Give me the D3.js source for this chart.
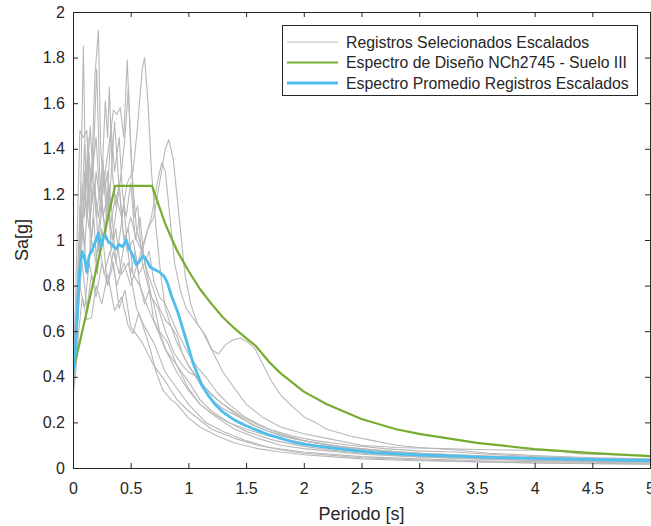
<!DOCTYPE html>
<html><head><meta charset="utf-8">
<script src="https://cdn.jsdelivr.net/npm/d3@7/dist/d3.min.js"></script>
<style>html,body{margin:0;padding:0;background:#fff;}svg{display:block;}</style>
</head><body>
<script>
// ---- Data ----
const xTicks = [0,0.5,1,1.5,2,2.5,3,3.5,4,4.5,5];
const xTickLabels = ["0","0.5","1","1.5","2","2.5","3","3.5","4","4.5","5"];
const yTicks = [0,0.2,0.4,0.6,0.8,1,1.2,1.4,1.6,1.8,2];
const yTickLabels = ["0","0.2","0.4","0.6","0.8","1","1.2","1.4","1.6","1.8","2"];
const legendLabels = ["Registros Selecionados Escalados","Espectro de Diseño NCh2745 - Suelo III","Espectro Promedio Registros Escalados"];

const registro1 = [[0,0.38],[0.03,0.6],[0.05,0.9],[0.07,1.3],[0.09,1.85],[0.11,1.2],[0.13,1.45],[0.15,0.95],[0.18,1.1],[0.21,0.85],[0.25,1.05],[0.3,0.8],[0.35,0.9],[0.4,0.7],[0.45,0.78],[0.5,0.62],[0.6,0.55],[0.7,0.45],[0.8,0.38],[0.9,0.3],[1.0,0.25],[1.2,0.17],[1.4,0.13],[1.6,0.1],[1.8,0.08],[2.0,0.065],[2.5,0.045],[3,0.035],[3.5,0.028],[4,0.022],[4.5,0.02],[5,0.018]];
const registro2 = [[0,0.42],[0.03,0.7],[0.06,1.0],[0.08,1.25],[0.1,1.1],[0.13,1.4],[0.16,1.25],[0.19,1.72],[0.22,1.92],[0.24,1.4],[0.27,1.2],[0.3,1.3],[0.33,0.95],[0.37,1.05],[0.42,0.85],[0.48,0.9],[0.55,0.7],[0.62,0.62],[0.7,0.55],[0.8,0.42],[0.9,0.35],[1.0,0.28],[1.15,0.2],[1.3,0.16],[1.5,0.12],[1.7,0.09],[2.0,0.07],[2.5,0.05],[3,0.04],[3.5,0.032],[4,0.028],[5,0.022]];
const registro3 = [[0,0.35],[0.02,0.5],[0.05,0.85],[0.08,1.1],[0.1,0.95],[0.13,1.2],[0.16,1.0],[0.2,1.3],[0.24,1.15],[0.28,1.61],[0.3,1.45],[0.315,1.67],[0.34,1.3],[0.37,1.15],[0.4,1.25],[0.44,1.0],[0.48,1.05],[0.52,0.85],[0.58,0.8],[0.65,0.7],[0.72,0.62],[0.8,0.52],[0.9,0.45],[1.0,0.38],[1.1,0.3],[1.2,0.25],[1.35,0.2],[1.5,0.16],[1.75,0.12],[2.0,0.095],[2.3,0.075],[2.6,0.06],[3,0.05],[3.5,0.04],[4,0.033],[4.5,0.028],[5,0.025]];
const registro4 = [[0,0.4],[0.03,0.65],[0.06,0.9],[0.09,1.05],[0.12,0.85],[0.16,1.0],[0.2,0.9],[0.24,1.15],[0.28,1.3],[0.32,1.45],[0.35,1.57],[0.38,1.55],[0.41,1.58],[0.44,1.45],[0.47,1.79],[0.5,1.4],[0.53,1.1],[0.56,1.15],[0.6,0.9],[0.65,0.8],[0.7,0.72],[0.75,0.6],[0.82,0.55],[0.9,0.45],[1.0,0.35],[1.1,0.28],[1.2,0.24],[1.35,0.2],[1.5,0.17],[1.7,0.14],[1.9,0.12],[2.1,0.1],[2.4,0.085],[2.8,0.07],[3.2,0.06],[3.6,0.05],[4,0.042],[4.5,0.036],[5,0.03]];
const registro5 = [[0,0.45],[0.03,0.7],[0.06,0.95],[0.1,1.2],[0.14,1.05],[0.18,1.25],[0.22,1.1],[0.27,1.3],[0.32,1.05],[0.37,1.2],[0.42,1.1],[0.47,1.25],[0.52,1.3],[0.56,1.5],[0.6,1.75],[0.62,1.8],[0.65,1.6],[0.68,1.3],[0.72,1.05],[0.76,0.85],[0.8,0.7],[0.85,0.62],[0.9,0.55],[1.0,0.45],[1.1,0.37],[1.2,0.3],[1.3,0.26],[1.45,0.22],[1.6,0.18],[1.8,0.14],[2.0,0.12],[2.2,0.1],[2.5,0.08],[3,0.06],[3.5,0.05],[4,0.04],[4.5,0.034],[5,0.03]];
const registro6 = [[0,0.33],[0.02,0.45],[0.05,0.75],[0.08,0.9],[0.12,0.7],[0.16,0.85],[0.2,0.75],[0.25,0.9],[0.3,0.8],[0.35,0.95],[0.4,0.85],[0.45,1.0],[0.5,1.1],[0.55,1.0],[0.6,0.95],[0.65,1.05],[0.7,1.1],[0.75,1.25],[0.8,1.4],[0.83,1.44],[0.87,1.35],[0.92,1.1],[0.97,0.85],[1.02,0.72],[1.08,0.63],[1.15,0.58],[1.22,0.5],[1.3,0.42],[1.4,0.35],[1.5,0.28],[1.65,0.22],[1.8,0.18],[2.0,0.15],[2.2,0.13],[2.5,0.1],[2.8,0.09],[3.2,0.085],[3.6,0.08],[4.0,0.078],[4.2,0.075],[4.4,0.062],[4.7,0.058],[5,0.055]];
const registro7 = [[0,0.36],[0.03,0.55],[0.06,0.8],[0.1,0.7],[0.14,0.9],[0.18,0.8],[0.22,1.0],[0.27,0.85],[0.32,0.95],[0.38,0.8],[0.44,0.9],[0.5,0.8],[0.56,0.9],[0.62,1.0],[0.68,1.1],[0.73,1.25],[0.77,1.34],[0.8,1.3],[0.84,1.1],[0.88,0.9],[0.93,0.78],[0.98,0.7],[1.05,0.65],[1.12,0.6],[1.2,0.52],[1.26,0.5],[1.32,0.54],[1.38,0.56],[1.45,0.57],[1.52,0.55],[1.58,0.52],[1.65,0.45],[1.72,0.38],[1.8,0.32],[1.9,0.27],[2.0,0.225],[2.1,0.2],[2.2,0.17],[2.4,0.14],[2.6,0.12],[2.8,0.1],[3.0,0.09],[3.3,0.08],[3.6,0.065],[4.0,0.055],[4.5,0.045],[5,0.04]];
const registro8 = [[0,0.31],[0.02,0.4],[0.05,0.6],[0.08,0.75],[0.12,0.65],[0.16,0.66],[0.2,0.8],[0.25,0.72],[0.3,0.85],[0.36,0.69],[0.42,0.75],[0.48,0.62],[0.52,0.59],[0.57,0.68],[0.62,0.6],[0.67,0.52],[0.72,0.42],[0.78,0.34],[0.85,0.3],[0.9,0.28],[1.0,0.22],[1.1,0.18],[1.25,0.14],[1.4,0.11],[1.6,0.085],[1.8,0.07],[2.0,0.058],[2.5,0.04],[3,0.032],[3.5,0.026],[4,0.022],[4.5,0.019],[5,0.017]];
const registro9 = [[0,0.44],[0.02,0.7],[0.04,1.1],[0.06,1.48],[0.09,1.45],[0.12,1.48],[0.14,1.2],[0.17,1.35],[0.2,1.1],[0.24,1.25],[0.28,1.0],[0.32,1.2],[0.36,1.52],[0.39,1.3],[0.43,1.05],[0.47,0.95],[0.52,1.0],[0.57,0.85],[0.62,0.9],[0.68,0.75],[0.74,0.7],[0.8,0.6],[0.88,0.5],[0.95,0.45],[1.0,0.42],[1.08,0.4],[1.15,0.35],[1.25,0.3],[1.4,0.24],[1.55,0.19],[1.7,0.16],[1.9,0.13],[2.1,0.11],[2.4,0.09],[2.7,0.075],[3,0.065],[3.5,0.055],[4,0.045],[4.5,0.04],[5,0.035]];
const registro10 = [[0,0.39],[0.03,0.6],[0.06,0.95],[0.09,1.15],[0.12,1.3],[0.15,1.1],[0.18,1.4],[0.205,1.75],[0.23,1.3],[0.26,1.1],[0.3,1.2],[0.34,1.0],[0.38,1.15],[0.42,1.3],[0.45,1.45],[0.48,1.67],[0.51,1.3],[0.55,1.05],[0.6,0.95],[0.65,0.85],[0.7,0.78],[0.75,0.7],[0.8,0.65],[0.85,0.62],[0.9,0.58],[0.95,0.5],[1.0,0.45],[1.1,0.38],[1.2,0.32],[1.3,0.28],[1.45,0.23],[1.6,0.19],[1.8,0.15],[2.0,0.12],[2.3,0.095],[2.6,0.08],[3,0.065],[3.5,0.05],[4,0.04],[4.5,0.035],[5,0.03]];
const registro11 = [[0,0.37],[0.02,0.55],[0.04,0.85],[0.06,1.15],[0.08,1.0],[0.1,1.3],[0.12,1.1],[0.14,1.38],[0.16,1.15],[0.19,1.25],[0.22,0.95],[0.25,1.15],[0.28,1.05],[0.31,1.25],[0.34,1.1],[0.37,0.9],[0.4,1.0],[0.44,1.15],[0.47,0.98],[0.5,0.85],[0.54,0.95],[0.58,0.8],[0.62,0.72],[0.66,0.78],[0.7,0.65],[0.76,0.58],[0.82,0.5],[0.9,0.42],[1.0,0.34],[1.1,0.28],[1.25,0.22],[1.4,0.17],[1.6,0.13],[1.8,0.1],[2.0,0.085],[2.5,0.06],[3,0.048],[3.5,0.04],[4,0.034],[4.5,0.03],[5,0.026]];
const registro12 = [[0,0.41],[0.02,0.6],[0.04,0.8],[0.07,1.05],[0.1,1.42],[0.12,1.25],[0.15,1.5],[0.17,1.3],[0.2,1.45],[0.23,1.2],[0.26,1.35],[0.29,1.1],[0.33,1.5],[0.36,1.3],[0.4,1.45],[0.43,1.2],[0.46,1.1],[0.5,1.25],[0.54,1.0],[0.58,1.1],[0.62,0.9],[0.66,0.95],[0.7,0.82],[0.75,0.75],[0.8,0.72],[0.85,0.66],[0.9,0.6],[0.95,0.55],[1.0,0.5],[1.08,0.44],[1.15,0.4],[1.25,0.33],[1.35,0.28],[1.5,0.22],[1.7,0.17],[1.9,0.14],[2.1,0.12],[2.4,0.1],[2.7,0.085],[3,0.075],[3.3,0.07],[3.6,0.06],[4,0.05],[4.5,0.042],[5,0.036]];

const espectroDiseno = [[0,0.42],[0.365,1.237],[0.685,1.237],[0.8,1.07],[0.9,0.955],[1.0,0.865],[1.1,0.785],[1.2,0.72],[1.3,0.66],[1.4,0.612],[1.5,0.57],[1.58,0.537],[1.7,0.465],[1.8,0.415],[2.0,0.335],[2.2,0.28],[2.5,0.215],[2.8,0.17],[3.0,0.15],[3.5,0.11],[4.0,0.083],[4.5,0.065],[5.0,0.052]];

const espectroPromedio = [[0,0.42],[0.02,0.5],[0.04,0.7],[0.06,0.88],[0.08,0.95],[0.1,0.92],[0.12,0.86],[0.14,0.93],[0.17,0.96],[0.2,1.0],[0.22,1.03],[0.24,0.97],[0.26,1.01],[0.28,1.02],[0.31,0.99],[0.34,0.98],[0.37,0.96],[0.4,0.98],[0.43,0.97],[0.46,1.0],[0.49,0.96],[0.52,0.93],[0.55,0.89],[0.58,0.91],[0.61,0.93],[0.64,0.91],[0.67,0.88],[0.71,0.87],[0.75,0.86],[0.79,0.84],[0.82,0.81],[0.85,0.76],[0.88,0.72],[0.91,0.68],[0.94,0.63],[0.97,0.58],[1.0,0.53],[1.04,0.46],[1.08,0.41],[1.12,0.36],[1.17,0.32],[1.23,0.28],[1.3,0.245],[1.4,0.21],[1.5,0.185],[1.6,0.165],[1.7,0.145],[1.8,0.13],[1.9,0.115],[2.0,0.105],[2.2,0.09],[2.4,0.078],[2.6,0.068],[2.8,0.062],[3.0,0.057],[3.3,0.052],[3.6,0.047],[4.0,0.042],[4.5,0.037],[5,0.033]];

const registros = [registro1,registro2,registro3,registro4,registro5,registro6,registro7,registro8,registro9,registro10,registro11,registro12];

// ---- Layout ----
const W = 651, H = 526;
const L = 73, R = 650, T = 12, B = 468;
const axisColor = "#262626";
const font = "'Liberation Sans', Arial, Helvetica, sans-serif";
const greyC = "#b8b8b8", greenC = "#77ac30", blueC = "#4dbeee";

const svg = d3.select("body").append("svg").attr("width", W).attr("height", H);
const x = d3.scaleLinear().domain([0,5]).range([L,R]);
const y = d3.scaleLinear().domain([0,2]).range([B,T]);

svg.append("defs").append("clipPath").attr("id","clip")
  .append("rect").attr("x",L).attr("y",T).attr("width",R-L).attr("height",B-T);

const line = d3.line().x(d=>x(d[0])).y(d=>y(d[1]));
const plot = svg.append("g").attr("clip-path","url(#clip)");

plot.selectAll("path.reg").data(registros).enter().append("path")
  .attr("class","reg").attr("d", line).attr("fill","none")
  .attr("stroke", greyC).attr("stroke-width",1.1).attr("stroke-linejoin","round");
plot.append("path").datum(espectroDiseno).attr("d",line).attr("fill","none")
  .attr("stroke",greenC).attr("stroke-width",2.2).attr("stroke-linejoin","round");
plot.append("path").datum(espectroPromedio).attr("d",line).attr("fill","none")
  .attr("stroke",blueC).attr("stroke-width",2.8).attr("stroke-linejoin","round");

// ---- Axes (MATLAB box style, inward ticks) ----
const tk = 5;
const gx = svg.append("g").attr("transform",`translate(0,${B})`)
  .call(d3.axisBottom(x).tickValues(xTicks).tickSize(-tk).tickPadding(15)
    .tickFormat((d,i)=>xTickLabels[i]));
const gxt = svg.append("g").attr("transform",`translate(0,${T})`)
  .call(d3.axisTop(x).tickValues(xTicks).tickSize(-tk).tickFormat(""));
const gy = svg.append("g").attr("transform",`translate(${L},0)`)
  .call(d3.axisLeft(y).tickValues(yTicks).tickSize(-tk).tickPadding(8)
    .tickFormat((d,i)=>yTickLabels[i]));
const gyr = svg.append("g").attr("transform",`translate(${R},0)`)
  .call(d3.axisRight(y).tickValues(yTicks).tickSize(-tk).tickFormat(""));
[gx,gxt,gy,gyr].forEach(g=>{
  g.select(".domain").attr("stroke",axisColor).attr("stroke-width",1);
  g.selectAll(".tick line").attr("stroke",axisColor).attr("stroke-width",1);
  g.selectAll(".tick text").attr("fill",axisColor).style("font-family",font).style("font-size","16px");
});

// axis labels
svg.append("text").attr("x",(L+R)/2).attr("y",520).attr("text-anchor","middle")
  .style("font-family",font).style("font-size","18px").attr("fill",axisColor).text("Periodo [s]");
svg.append("text").attr("transform",`translate(28,${(T+B)/2}) rotate(-90)`).attr("text-anchor","middle")
  .style("font-family",font).style("font-size","18px").attr("fill",axisColor).text("Sa[g]");

// ---- Legend ----
const lg = svg.append("g");
lg.append("rect").attr("x",282.5).attr("y",25.5).attr("width",355).attr("height",70)
  .attr("fill","#fff").attr("stroke",axisColor).attr("stroke-width",1);
const legColors = [greyC, greenC, blueC];
const legWidths = [1.1, 2.2, 2.8];
const legY = [42, 62.5, 83];
legendLabels.forEach((lab,i)=>{
  lg.append("line").attr("x1",287).attr("x2",338).attr("y1",legY[i]).attr("y2",legY[i])
    .attr("stroke",legColors[i]).attr("stroke-width",legWidths[i]);
  lg.append("text").attr("x",346).attr("y",legY[i]).attr("dy","0.35em")
    .style("font-family",font).style("font-size","15.8px").attr("fill",axisColor).text(lab);
});
</script>
</body></html>
